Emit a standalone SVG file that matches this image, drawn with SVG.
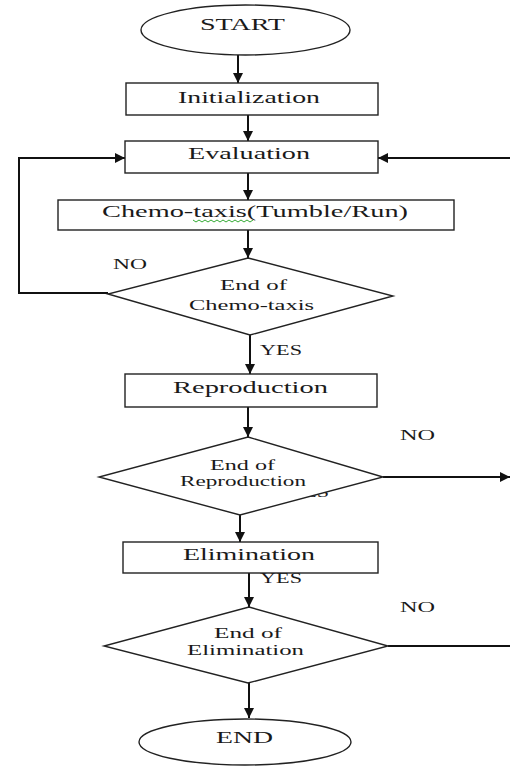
<svg xmlns="http://www.w3.org/2000/svg" width="510" height="766" viewBox="0 0 510 766">
<style>
.shape{fill:#fff;stroke:#222;stroke-width:1.4}
.line{fill:none;stroke:#111;stroke-width:2}
.t{font-family:"Liberation Serif","DejaVu Serif",serif;fill:#1a1a1a}
.b{font-size:17px}
.d{font-size:15px}
.l{font-size:15px}
</style>
<defs>
<marker id="arr" markerUnits="userSpaceOnUse" markerWidth="10" markerHeight="10" viewBox="0 0 10 10" refX="10" refY="5" orient="auto">
<path d="M0,0 L10,5 L0,10 z" fill="#111"/>
</marker>
</defs>
<g id="connectors">
<path class="line" d="M238 55 V83" marker-end="url(#arr)"/>
<path class="line" d="M248 115 V141" marker-end="url(#arr)"/>
<path class="line" d="M248 173 V200" marker-end="url(#arr)"/>
<path class="line" d="M248 230 V258" marker-end="url(#arr)"/>
<path class="line" d="M108 293 H19 V158 H125" marker-end="url(#arr)"/>
<path class="line" d="M510 158 H378" marker-end="url(#arr)"/>
<path class="line" d="M250 335 V374" marker-end="url(#arr)"/>
<path class="line" d="M248 407 V437" marker-end="url(#arr)"/>
<path class="line" d="M383 477 H510" marker-end="url(#arr)"/>
<path class="line" d="M240 515 V542" marker-end="url(#arr)"/>
<path class="line" d="M249 573 V607" marker-end="url(#arr)"/>
<path class="line" d="M388 646 H510"/>
<path class="line" d="M249 683 V718" marker-end="url(#arr)"/>
<text class="t l" x="113" y="269" textLength="34" lengthAdjust="spacingAndGlyphs">NO</text>
<text class="t l" x="260" y="355" textLength="42" lengthAdjust="spacingAndGlyphs">YES</text>
<text class="t l" x="400" y="440" textLength="35" lengthAdjust="spacingAndGlyphs">NO</text>
<text class="t l" x="287" y="497" textLength="42" lengthAdjust="spacingAndGlyphs">YES</text>
<text class="t l" x="260" y="583" textLength="42" lengthAdjust="spacingAndGlyphs">YES</text>
<text class="t l" x="400" y="612" textLength="35" lengthAdjust="spacingAndGlyphs">NO</text>
</g>
<g id="start">
<ellipse class="shape" cx="245.5" cy="30" rx="104.5" ry="25"/>
<text class="t b" x="200" y="30" textLength="85" lengthAdjust="spacingAndGlyphs">START</text>
</g>
<g id="initialization">
<rect class="shape" x="126" y="83" width="252" height="32"/>
<text class="t b" x="178" y="103" textLength="142" lengthAdjust="spacingAndGlyphs">Initialization</text>
</g>
<g id="evaluation">
<rect class="shape" x="125" y="141" width="253" height="32"/>
<text class="t b" x="188" y="159" textLength="122" lengthAdjust="spacingAndGlyphs">Evaluation</text>
</g>
<g id="chemotaxis">
<rect class="shape" x="58" y="200" width="396" height="30"/>
<text class="t b" x="102" y="217" textLength="306" lengthAdjust="spacingAndGlyphs">Chemo-taxis(Tumble/Run)</text>
<path d="M193 220 l3 2 l3 -2 l3 2 l3 -2 l3 2 l3 -2 l3 2 l3 -2 l3 2 l3 -2 l3 2 l3 -2 l3 2 l3 -2 l3 2 l3 -2 l3 2 l3 -2 l3 2 l3 -2" fill="none" stroke="#3a3" stroke-width="1"/>
</g>
<g id="end-chemotaxis">
<polygon class="shape" points="248,258 393,296 250,335 108,294"/>
<text class="t d" x="220" y="290" textLength="67" lengthAdjust="spacingAndGlyphs">End of</text>
<text class="t d" x="189" y="310" textLength="125" lengthAdjust="spacingAndGlyphs">Chemo-taxis</text>
</g>
<g id="reproduction">
<rect class="shape" x="125" y="374" width="252" height="33"/>
<text class="t b" x="173" y="393" textLength="155" lengthAdjust="spacingAndGlyphs">Reproduction</text>
</g>
<g id="end-reproduction">
<polygon class="shape" points="248,437 383,477 240,515 99,477"/>
<text class="t d" x="210" y="470" textLength="65" lengthAdjust="spacingAndGlyphs">End of</text>
<text class="t d" x="180" y="486" textLength="126" lengthAdjust="spacingAndGlyphs">Reproduction</text>
</g>
<g id="elimination">
<rect class="shape" x="123" y="542" width="255" height="31"/>
<text class="t b" x="183" y="560" textLength="132" lengthAdjust="spacingAndGlyphs">Elimination</text>
</g>
<g id="end-elimination">
<polygon class="shape" points="249,607 388,646 248,683 104,646"/>
<text class="t d" x="214" y="638" textLength="68" lengthAdjust="spacingAndGlyphs">End of</text>
<text class="t d" x="187" y="655" textLength="117" lengthAdjust="spacingAndGlyphs">Elimination</text>
</g>
<g id="end">
<ellipse class="shape" cx="245" cy="742" rx="106" ry="23"/>
<text class="t b" x="216" y="743" textLength="57" lengthAdjust="spacingAndGlyphs">END</text>
</g>
</svg>
